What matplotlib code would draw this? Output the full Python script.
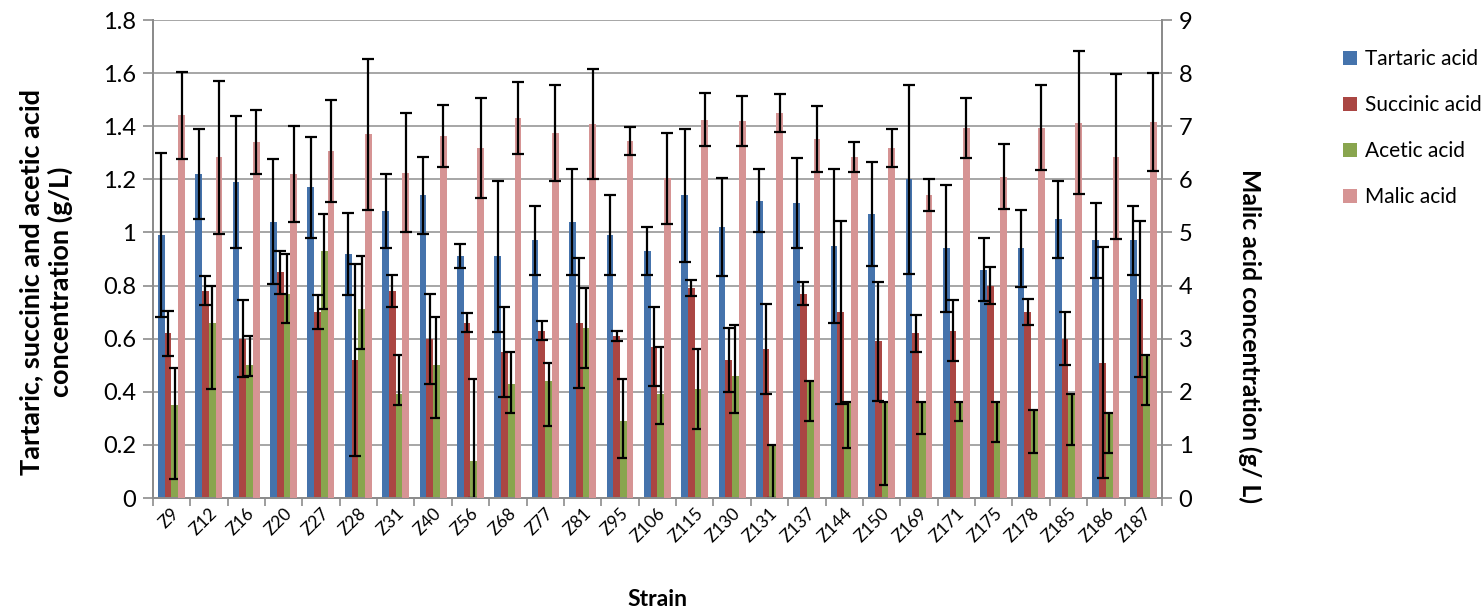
import matplotlib.pyplot as plt
import numpy as np

plt.rcParams['font.family'] = ['Lato', 'DejaVu Sans']

strains = ['Z9', 'Z12', 'Z16', 'Z20', 'Z27', 'Z28', 'Z31', 'Z40', 'Z56', 'Z68',
           'Z77', 'Z81', 'Z95', 'Z106', 'Z115', 'Z130', 'Z131', 'Z137', 'Z144',
           'Z150', 'Z169', 'Z171', 'Z175', 'Z178', 'Z185', 'Z186', 'Z187']

# left axis (g/L)
tartaric = [0.99, 1.22, 1.19, 1.04, 1.17, 0.92, 1.08, 1.14, 0.91, 0.91, 0.97, 1.04, 0.99, 0.93,
            1.14, 1.02, 1.12, 1.11, 0.95, 1.07, 1.20, 0.94, 0.86, 0.94, 1.05, 0.97, 0.97]
tartaric_err = [0.31, 0.17, 0.25, 0.235, 0.19, 0.155, 0.14, 0.145, 0.045, 0.285, 0.13, 0.20, 0.15, 0.09,
                0.25, 0.185, 0.12, 0.17, 0.29, 0.195, 0.355, 0.24, 0.12, 0.145, 0.145, 0.14, 0.13]

succinic = [0.62, 0.78, 0.60, 0.85, 0.70, 0.52, 0.78, 0.60, 0.66, 0.55, 0.63, 0.66, 0.61, 0.57,
            0.79, 0.52, 0.56, 0.77, 0.70, 0.59, 0.62, 0.63, 0.80, 0.70, 0.60, 0.51, 0.75]
succinic_err = [0.085, 0.055, 0.145, 0.08, 0.065, 0.36, 0.06, 0.17, 0.035, 0.17, 0.035, 0.245, 0.02, 0.15,
                0.03, 0.12, 0.17, 0.045, 0.345, 0.225, 0.07, 0.115, 0.07, 0.05, 0.10, 0.435, 0.295]

acetic = [0.35, 0.66, 0.50, 0.77, 0.93, 0.71, 0.39, 0.50, 0.14, 0.43, 0.44, 0.64, 0.29, 0.39,
          0.41, 0.46, 0.20, 0.44, 0.36, 0.36, 0.36, 0.36, 0.36, 0.33, 0.39, 0.32, 0.54]
acetic_err_lo = [0.28, 0.25, 0.04, 0.11, 0.22, 0.15, 0.04, 0.20, 0.14, 0.11, 0.17, 0.15, 0.14, 0.11,
                 0.15, 0.14, 0.20, 0.15, 0.17, 0.31, 0.12, 0.07, 0.15, 0.16, 0.19, 0.15, 0.19]
acetic_err_hi = [0.14, 0.14, 0.11, 0.15, 0.14, 0.20, 0.15, 0.18, 0.31, 0.12, 0.07, 0.15, 0.16, 0.18,
                 0.15, 0.19, 0, 0, 0, 0, 0, 0, 0, 0, 0, 0, 0]

# right axis (g/L)
malic = [7.21, 6.42, 6.70, 6.10, 6.54, 6.85, 6.12, 6.82, 6.59, 7.16, 6.87, 7.04, 6.72, 6.02,
         7.12, 7.10, 7.25, 6.76, 6.42, 6.59, 5.71, 6.97, 6.05, 6.97, 7.07, 6.43, 7.08]
malic_err = [0.82, 1.44, 0.60, 0.90, 0.96, 1.42, 1.12, 0.58, 0.95, 0.68, 0.90, 1.03, 0.27, 0.86,
             0.50, 0.47, 0.35, 0.63, 0.29, 0.35, 0.30, 0.56, 0.61, 0.80, 1.35, 1.56, 0.92]

x = np.arange(len(strains))
w = 0.18
err_kw = dict(ecolor='black', elinewidth=1.6, capsize=4.5, capthick=1.6)

fig = plt.figure(figsize=(14.83, 6.10), dpi=100)
ax = fig.add_axes([0.103, 0.1836, 0.6805, 0.7836])
ax2 = ax.twinx()

b1 = ax.bar(x - 1.5 * w, tartaric, w, color='#4573AC', label='Tartaric acid',
            yerr=tartaric_err, error_kw=err_kw, zorder=3)
b2 = ax.bar(x - 0.5 * w, succinic, w, color='#AA4643', label='Succinic acid',
            yerr=succinic_err, error_kw=err_kw, zorder=3)
b3 = ax.bar(x + 0.5 * w, acetic, w, color='#89A54E', label='Acetic acid',
            yerr=[acetic_err_lo, acetic_err_hi], error_kw=err_kw, zorder=3)
b4 = ax2.bar(x + 1.5 * w, malic, w, color='#D69494', label='Malic acid',
             yerr=malic_err, error_kw=err_kw, zorder=3)

ax.set_ylim(0, 1.8)
ax2.set_ylim(0, 9)
ax.set_xlim(-0.5, len(strains) - 0.5)
ax.set_yticks(np.arange(0, 1.81, 0.2))
ax.set_yticklabels(['0', '0.2', '0.4', '0.6', '0.8', '1', '1.2', '1.4', '1.6', '1.8'])
ax2.set_yticks(np.arange(0, 10, 1))
ax.yaxis.grid(True, color='#A6A6A6', linewidth=1.4, zorder=0)
ax.set_axisbelow(True)

ax.set_xticks(np.arange(-0.5, len(strains)), labels=[])
ax.set_xticks(x, labels=strains, minor=True)
ax.tick_params(axis='x', which='major', length=6, color='#8C8C8C', width=1.2)
ax.tick_params(axis='x', which='minor', length=0, labelsize=12.5, pad=5)
for lab in ax.get_xticklabels(minor=True):
    lab.set_rotation(45)
    lab.set_ha('right')
    lab.set_rotation_mode('anchor')

ax.tick_params(axis='y', length=7, color='#8C8C8C', width=1.2, labelsize=17, pad=5)
ax2.tick_params(axis='y', length=7, color='#8C8C8C', width=1.2, labelsize=17, pad=5)

for a in (ax, ax2):
    a.spines['top'].set_visible(False)
    for s in ('left', 'right', 'bottom'):
        a.spines[s].set_color('#8C8C8C')
        a.spines[s].set_linewidth(1.4)

ax.set_xlabel('Strain', fontsize=16.5, fontweight='bold', va='top')
ax.xaxis.set_label_coords(0.5, -0.19)
ax.set_ylabel('Tartaric, succinic and acetic acid\nconcentration (g/L)', fontsize=19.5,
              fontweight='bold', linespacing=1.2, va='center', ha='center')
ax.yaxis.set_label_coords(-0.106, 0.452)
ax2.set_ylabel('Malic acid concentration (g/ L)', fontsize=17.8, fontweight='bold',
               rotation=-90, va='center', ha='center')
ax2.yaxis.set_label_coords(1.087, 0.339)

fig.legend(handles=[b1, b2, b3, b4], loc='upper left', bbox_to_anchor=(0.893, 0.95),
           frameon=False, fontsize=15, handlelength=0.65, handleheight=0.65,
           labelspacing=1.25, handletextpad=0.4)

fig.savefig('out.png', dpi=100)
